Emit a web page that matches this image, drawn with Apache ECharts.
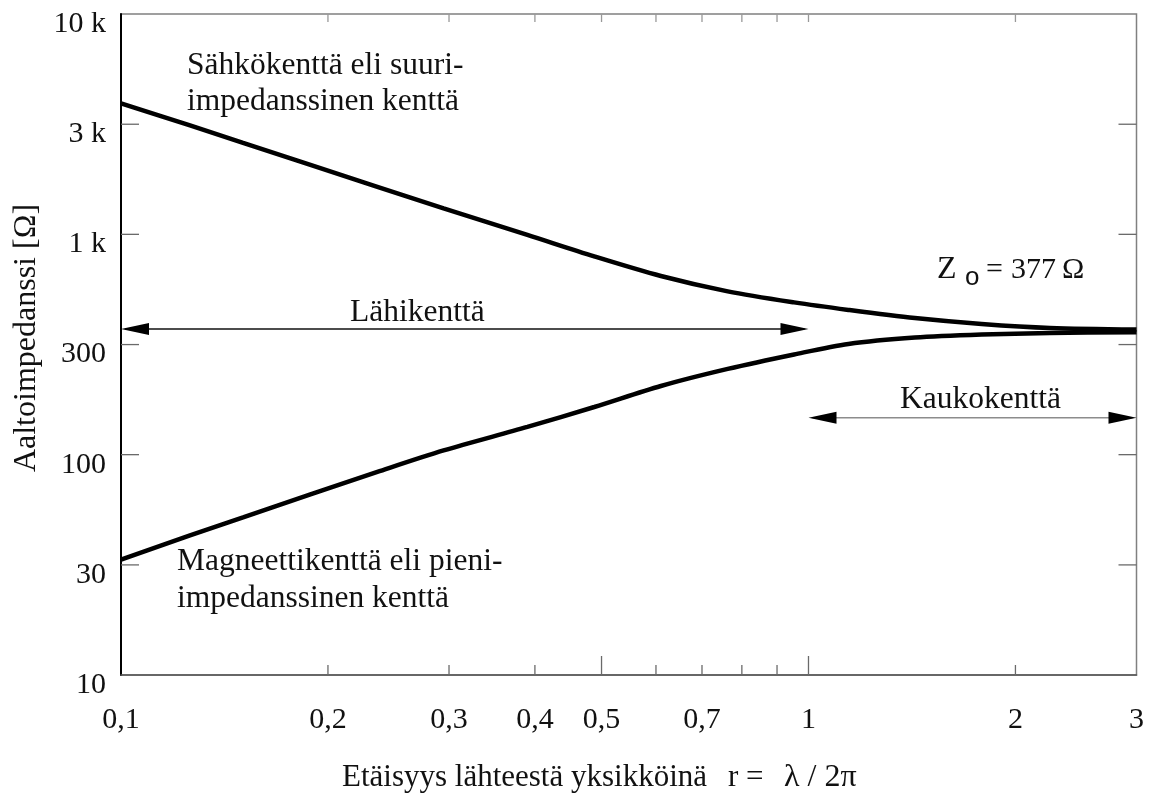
<!DOCTYPE html>
<html>
<head>
<meta charset="utf-8">
<script src="https://cdn.jsdelivr.net/npm/echarts@6/dist/echarts.min.js"></script>
<style>
  html, body { margin: 0; padding: 0; background: #fff; }
  #chart { width: 1155px; height: 798px; }
</style>
</head>
<body>
<div id="chart"></div>
<script>
// Distance from the source, in units of r = λ / 2π
const distance = [0.1, 0.126, 0.1505, 0.1886, 0.236, 0.2946, 0.39, 0.488, 0.61, 0.763, 0.953, 1.143, 1.428, 1.786, 2.245, 3.0];
// Wave impedance (Ω) of the electric, high-impedance field
const electricField = [3930, 3120, 2600, 2065, 1642, 1311, 994, 794, 647, 551, 491, 454, 417, 392, 376, 370];
// Wave impedance (Ω) of the magnetic, low-impedance field
const magneticField = [33.4, 43.0, 51.9, 66.0, 83.5, 104.5, 133.6, 164.6, 205, 245, 285, 318, 340, 351, 357, 359];

// Axis ticks and labels
const xTickValues = [0.2, 0.3, 0.4, 0.5, 0.6, 0.7, 0.8, 0.9, 1, 2];
const xLongTicks = [0.5, 1];
const xLabelValues = [0.1, 0.2, 0.3, 0.4, 0.5, 0.7, 1, 2, 3];
const xLabelTexts = ['0,1', '0,2', '0,3', '0,4', '0,5', '0,7', '1', '2', '3'];
const yTickValues = [10, 31.6, 100, 316, 1000, 3160, 10000];
const yTickLabels = ['10', '30', '100', '300', '1 k', '3 k', '10 k'];

// Range arrows: [from, to, impedance level]
const nearFieldArrow = [0.1, 1, 372];
const farFieldArrow = [1, 3, 147];

const X_MIN = 0.1, X_MAX = 3, Y_MIN = 10, Y_MAX = 10000;
const SERIF = '"Liberation Serif", "Times New Roman", serif';
const SANS = '"Liberation Sans", Arial, sans-serif';
const INK = '#111';
const TICK = '#6a6a6a';
const font = (size, fam) => size + 'px ' + (fam || SERIF);

function renderXTick(params, api) {
  const v = api.value(0);
  const bottom = api.coord([v, Y_MIN]);
  const top = api.coord([v, Y_MAX]);
  const len = xLongTicks.indexOf(v) >= 0 ? 19 : 10;
  return {
    type: 'group',
    children: [
      { type: 'line', shape: { x1: bottom[0], y1: bottom[1], x2: bottom[0], y2: bottom[1] - len }, style: { stroke: TICK, lineWidth: 1.3 } },
      { type: 'line', shape: { x1: top[0], y1: top[1], x2: top[0], y2: top[1] + 8 }, style: { stroke: '#999', lineWidth: 1.3 } }
    ]
  };
}

function renderXLabel(params, api) {
  const p = api.coord([api.value(0), Y_MIN]);
  return {
    type: 'text', x: p[0], y: p[1] + 45,
    style: { text: xLabelTexts[params.dataIndex], font: font(30), fill: INK, align: 'center', verticalAlign: 'middle' }
  };
}

function renderYTick(params, api) {
  const v = api.value(1);
  const l = api.coord([X_MIN, v]);
  const r = api.coord([X_MAX, v]);
  const children = [];
  if (v > Y_MIN && v < Y_MAX) {
    children.push({ type: 'line', shape: { x1: l[0], y1: l[1], x2: l[0] + 18, y2: l[1] }, style: { stroke: TICK, lineWidth: 1.3 } });
    children.push({ type: 'line', shape: { x1: r[0] - 18, y1: r[1], x2: r[0], y2: r[1] }, style: { stroke: TICK, lineWidth: 1.3 } });
  }
  children.push({
    type: 'text', x: l[0] - 15, y: l[1] + 10,
    style: { text: yTickLabels[params.dataIndex], font: font(30), fill: INK, align: 'right', verticalAlign: 'middle' }
  });
  return { type: 'group', children: children };
}

function renderArrow(params, api) {
  const a = api.coord([api.value(0), api.value(2)]);
  const b = api.coord([api.value(1), api.value(2)]);
  const y = a[1];
  const L = 28, H = 6;
  const lineColor = params.dataIndex === 0 ? '#111' : '#8c8c8c';
  return {
    type: 'group',
    children: [
      { type: 'line', shape: { x1: a[0] + 4, y1: y, x2: b[0] - 4, y2: y }, style: { stroke: lineColor, lineWidth: 1.6 } },
      { type: 'polygon', shape: { points: [[a[0], y], [a[0] + L, y - H], [a[0] + L, y + H]] }, style: { fill: '#000' } },
      { type: 'polygon', shape: { points: [[b[0], y], [b[0] - L, y - H], [b[0] - L, y + H]] }, style: { fill: '#000' } }
    ]
  };
}

const textStyle = (text, x, y, size, fam) => ({
  type: 'text', x: x, y: y, silent: true,
  style: { text: text, font: font(size, fam), fill: INK, align: 'left', verticalAlign: 'middle' }
});

const chart = echarts.init(document.getElementById('chart'), null, { renderer: 'canvas' });
chart.setOption({
  animation: false,
  backgroundColor: '#fff',
  grid: { left: 121, right: 18.5, top: 14, bottom: 123, show: true, borderColor: '#808080', borderWidth: 1.5, containLabel: false },
  xAxis: {
    type: 'log', logBase: 10, min: X_MIN, max: X_MAX,
    axisLine: { show: true, lineStyle: { color: '#555', width: 1.5 } },
    axisTick: { show: false }, axisLabel: { show: false }, splitLine: { show: false }
  },
  yAxis: {
    type: 'log', logBase: 10, min: Y_MIN, max: Y_MAX,
    axisLine: { show: true, lineStyle: { color: '#000', width: 2 } },
    axisTick: { show: false }, axisLabel: { show: false }, splitLine: { show: false }
  },
  graphic: [
    textStyle('Sähkökenttä eli suuri-', 187, 65.5, 31.5),
    textStyle('impedanssinen kenttä', 187, 102, 31.5),
    textStyle('Magneettikenttä eli pieni-', 177, 562, 31.5),
    textStyle('impedanssinen kenttä', 177, 599, 31.5),
    textStyle('Lähikenttä', 350, 312.5, 31.5),
    textStyle('Kaukokenttä', 900, 399.5, 31.5),
    textStyle('Z', 937, 270, 32),
    textStyle('o', 965, 278, 26, SANS),
    textStyle('=', 986, 270.5, 30),
    textStyle('377', 1011, 270.5, 30),
    textStyle('Ω', 1062, 270.5, 30),
    textStyle('Etäisyys lähteestä yksikköinä', 342, 777.5, 31),
    textStyle('r =', 728, 777.5, 31),
    textStyle('λ / 2π', 784, 777.5, 32),
    {
      type: 'text', x: 26.5, y: 338, rotation: Math.PI / 2, silent: true,
      style: { text: 'Aaltoimpedanssi [Ω]', font: font(32), fill: INK, align: 'center', verticalAlign: 'middle' }
    }
  ],
  series: [
    {
      name: 'Sähkökenttä', type: 'line', smooth: 0.3, symbol: 'none',
      data: distance.map((d, i) => [d, electricField[i]]),
      lineStyle: { color: '#000', width: 4.5 }, z: 5
    },
    {
      name: 'Magneettikenttä', type: 'line', smooth: 0.3, symbol: 'none',
      data: distance.map((d, i) => [d, magneticField[i]]),
      lineStyle: { color: '#000', width: 4.5 }, z: 5
    },
    {
      type: 'custom', silent: true, clip: false, renderItem: renderXTick,
      encode: { x: 0, y: 1 }, data: xTickValues.map(v => [v, Y_MIN])
    },
    {
      type: 'custom', silent: true, clip: false, renderItem: renderXLabel,
      encode: { x: 0, y: 1 }, data: xLabelValues.map(v => [v, Y_MIN])
    },
    {
      type: 'custom', silent: true, clip: false, renderItem: renderYTick,
      encode: { x: 0, y: 1 }, data: yTickValues.map(v => [X_MIN, v])
    },
    {
      type: 'custom', silent: true, clip: false, renderItem: renderArrow,
      encode: { x: [0, 1], y: 2 }, data: [nearFieldArrow, farFieldArrow]
    }
  ]
});
</script>
</body>
</html>
